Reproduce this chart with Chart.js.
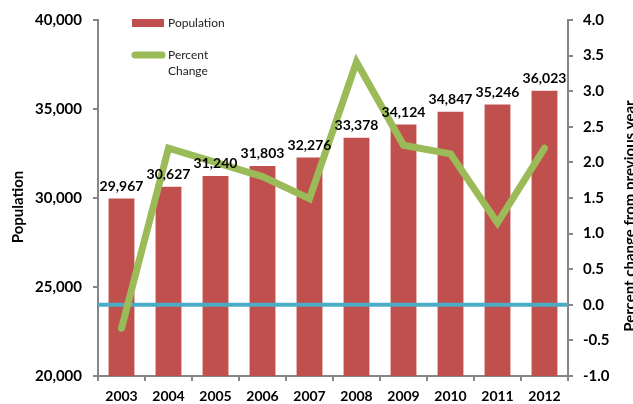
<!DOCTYPE html>
<html>
<head>
<meta charset="utf-8">
<script src="https://cdn.jsdelivr.net/npm/chart.js@4.4.1/dist/chart.umd.min.js"></script>
<style>
  html, body { margin: 0; padding: 0; background: #fff; }
  #wrap { width: 633px; height: 404px; position: relative; }
</style>
</head>
<body>
<div id="wrap"><canvas id="chart"></canvas></div>
<script>
// Data
const years = ['2003', '2004', '2005', '2006', '2007', '2008', '2009', '2010', '2011', '2012'];
const population = [29967, 30627, 31240, 31803, 32276, 33378, 34124, 34847, 35246, 36023];
const percentChange = [-0.33, 2.20, 2.00, 1.80, 1.49, 3.41, 2.24, 2.12, 1.15, 2.20];
const zeroLine = 0;

const RED = '#c0504d';
const GREEN = '#9bbb59';
const BLUE = '#4bacc6';
const AXIS = '#868686';
const FONT = 'Lato, "Open Sans", sans-serif';

// zero reference line, drawn just before the percent line so it sits over the bars
const zeroLinePlugin = {
  id: 'zeroLine',
  beforeDatasetDraw(chart, args) {
    if (args.index !== 1) return;
    const { ctx, chartArea } = chart;
    const y = chart.scales.y2.getPixelForValue(zeroLine);
    ctx.save();
    ctx.strokeStyle = BLUE;
    ctx.lineWidth = 4;
    ctx.beginPath();
    ctx.moveTo(chartArea.left, y);
    ctx.lineTo(chartArea.right, y);
    ctx.stroke();
    ctx.restore();
  }
};

// value labels over the bars, legend and axis titles
const decorPlugin = {
  id: 'decor',
  afterDatasetsDraw(chart) {
    const { ctx } = chart;
    const meta = chart.getDatasetMeta(0);
    ctx.save();
    ctx.fillStyle = '#000';
    ctx.font = 'bold 14px ' + FONT;
    ctx.textAlign = 'center';
    ctx.textBaseline = 'bottom';
    meta.data.forEach((bar, i) => {
      ctx.fillText(population[i].toLocaleString('en-US'), bar.x, bar.y - 5);
    });
    ctx.restore();
  },
  afterDraw(chart) {
    const { ctx } = chart;
    ctx.save();
    // legend
    ctx.fillStyle = RED;
    ctx.fillRect(132, 19, 32, 8);
    ctx.strokeStyle = GREEN;
    ctx.lineWidth = 7;
    ctx.lineCap = 'round';
    ctx.beginPath();
    ctx.moveTo(135, 55);
    ctx.lineTo(162, 55);
    ctx.stroke();
    ctx.fillStyle = '#222';
    ctx.font = '12px ' + FONT;
    ctx.textAlign = 'left';
    ctx.textBaseline = 'middle';
    ctx.fillText(chart.data.datasets[0].label, 168, 23);
    ctx.fillText('Percent', 168, 55);
    ctx.fillText('Change', 168, 71);

    // axis titles
    ctx.fillStyle = '#000';
    ctx.font = 'bold 15px ' + FONT;
    ctx.textAlign = 'center';
    ctx.translate(18, 207);
    ctx.rotate(-Math.PI / 2);
    ctx.fillText('Population', 0, 0);
    ctx.setTransform(1, 0, 0, 1, 0, 0);
    ctx.translate(630, 216);
    ctx.rotate(-Math.PI / 2);
    ctx.fillText('Percent change from previous year', 0, 0);
    ctx.restore();
  }
};

new Chart(document.getElementById('chart'), {
  data: {
    labels: years,
    datasets: [
      {
        type: 'bar',
        label: 'Population',
        data: population,
        backgroundColor: RED,
        categoryPercentage: 1,
        barPercentage: 0.55,
        order: 1,
        yAxisID: 'y'
      },
      {
        type: 'line',
        label: 'Percent Change',
        data: percentChange,
        borderColor: GREEN,
        borderWidth: 7,
        borderCapStyle: 'round',
        borderJoinStyle: 'miter',
        pointRadius: 0,
        tension: 0,
        order: 0,
        yAxisID: 'y2'
      }
    ]
  },
  options: {
    responsive: true,
    maintainAspectRatio: false,
    animation: false,
    layout: { padding: { top: 17, left: 0, right: 0, bottom: 0 } },
    plugins: {
      legend: { display: false },
      tooltip: { enabled: false }
    },
    scales: {
      x: {
        offset: true,
        grid: {
          offset: true,
          drawOnChartArea: false,
          tickLength: 5,
          color: AXIS,
          lineWidth: 2
        },
        border: { color: AXIS, width: 2 },
        ticks: {
          color: '#000',
          padding: 7,
          font: { family: FONT, size: 14, weight: 'bold' }
        },
        afterFit(scale) { scale.height = 28; }
      },
      y: {
        position: 'left',
        min: 20000,
        max: 40000,
        grid: {
          drawOnChartArea: false,
          tickLength: 5,
          color: AXIS,
          lineWidth: 2
        },
        border: { color: AXIS, width: 2 },
        ticks: {
          stepSize: 5000,
          color: '#000',
          padding: 11,
          font: { family: FONT, size: 15, weight: 'bold' },
          callback: v => v.toLocaleString('en-US')
        },
        afterFit(scale) { scale.width = 98; }
      },
      y2: {
        position: 'right',
        min: -1,
        max: 4,
        grid: {
          drawOnChartArea: false,
          tickLength: 5,
          color: AXIS,
          lineWidth: 2
        },
        border: { color: AXIS, width: 2 },
        ticks: {
          stepSize: 0.5,
          color: '#000',
          padding: 10,
          font: { family: FONT, size: 15, weight: 'bold' },
          callback: v => v.toFixed(1)
        },
        afterFit(scale) { scale.width = 65; }
      }
    }
  },
  plugins: [zeroLinePlugin, decorPlugin]
});
</script>
</body>
</html>
